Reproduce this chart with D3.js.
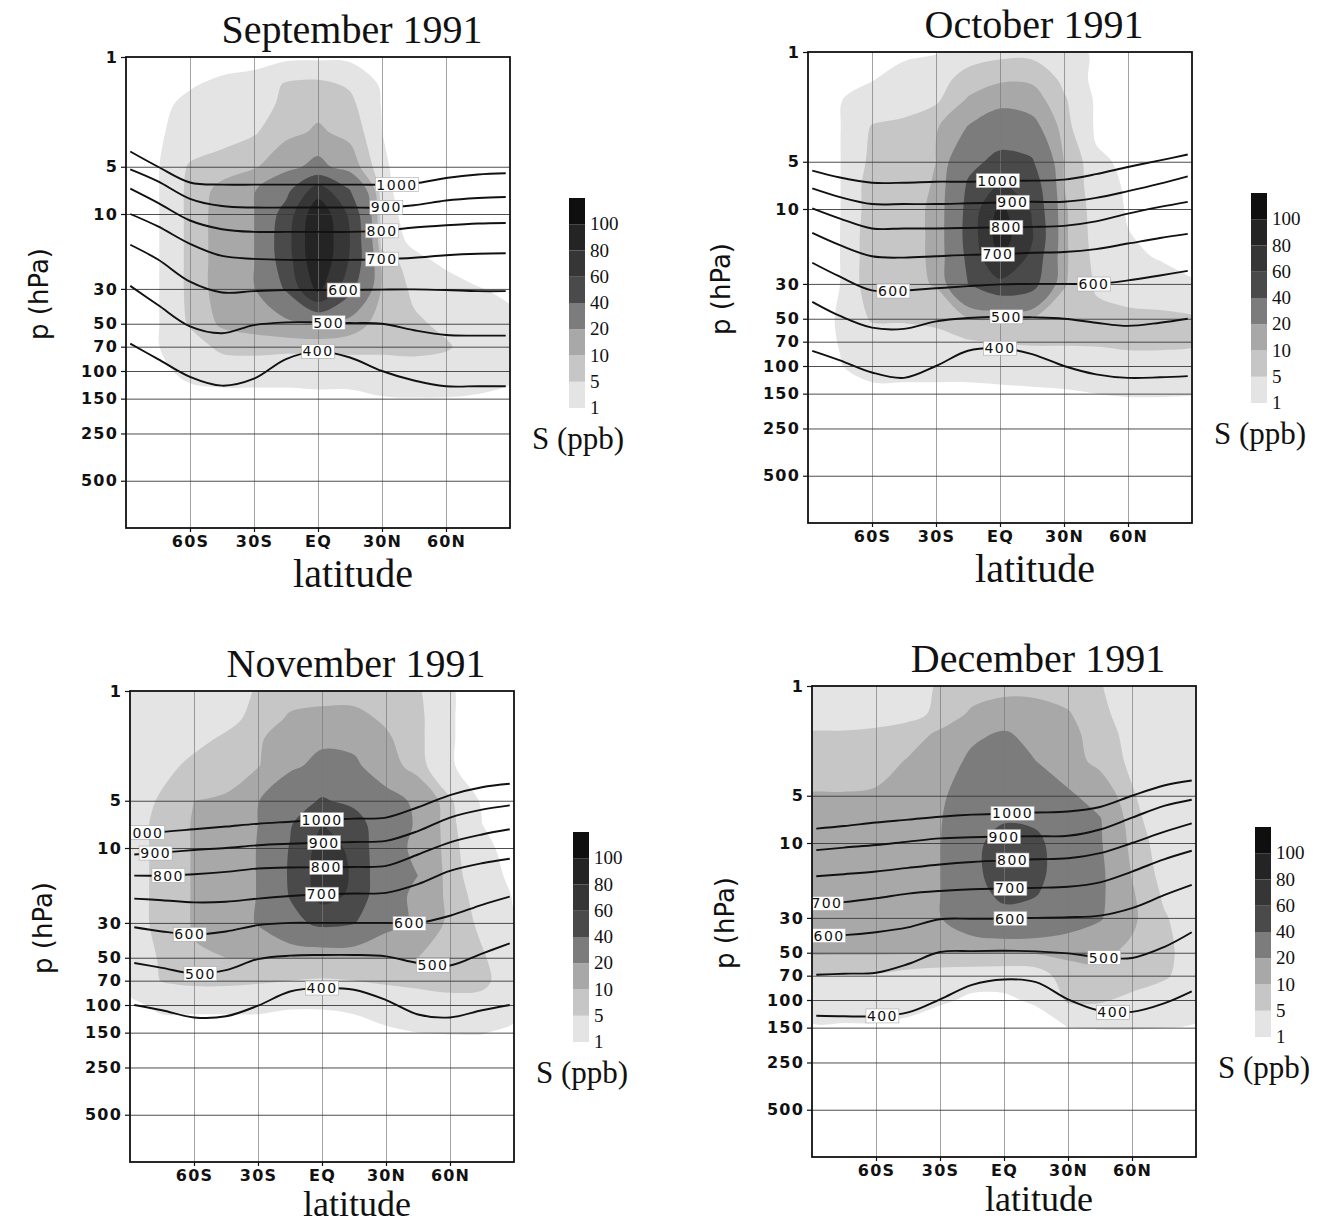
<!DOCTYPE html>
<html>
<head>
<meta charset="utf-8">
<script src="https://cdn.jsdelivr.net/npm/d3@7"></script>
<style>
	body { margin: 0; background: #fff; }
	.axis text { font-family: "DejaVu Sans", sans-serif; font-weight: bold; font-size: 16px; letter-spacing: 1.2px; fill: #111; }
	.axis line { stroke: #111; stroke-width: 1.2; }
	.axis path { display: none; }
	.grid line { stroke: #3a3a3a; stroke-width: 0.9; }
	.vgrid line { stroke: #7a7a7a; stroke-width: 0.7; }
	.grid path, .vgrid path { display: none; }
	.serif { font-family: "Liberation Serif", "Times New Roman", serif; fill: #111; }
	.ilabel { font-family: "DejaVu Sans", sans-serif; font-size: 14px; letter-spacing: 1.4px; fill: #111; }
</style>
</head>
<body>
<svg id="chart" width="1323" height="1224"></svg>
<script>

// grid of the S field: columns = latitudes, rows = pressure levels (hPa)
var lats = [-90, -75, -60, -45, -30, -15, 0, 15, 30, 45, 60, 75, 90];
var levels = [1, 1.5, 2, 3, 5, 7, 10, 15, 20, 30, 50, 70, 100, 150, 200];

// latitudes where the isentropes were read
var thetaLats = [-88, -75, -60, -45, -30, -15, 0, 15, 30, 45, 60, 75, 88];
var thetas = [1000, 900, 800, 700, 600, 500, 400];

var bandBreaks = [1, 5, 10, 20, 40, 60, 80, 100];
var bandColors = ["#e4e4e4", "#c6c6c6", "#a8a8a8", "#7c7c7c", "#4a4a4a", "#363636", "#242424", "#0f0f0f"];

var pTicks = [1, 5, 10, 30, 50, 70, 100, 150, 250, 500];
var latTicks = [-60, -30, 0, 30, 60];
var latTickLabels = ["60S", "30S", "EQ", "30N", "60N"];
var months = ["September 1991", "October 1991", "November 1991", "December 1991"];

// S (ppb)
var sepS = [
	[0, 0, 0, 0, 0.1, 0.2, 0.3, 0.2, 0, 0, 0, 0, 0],
	[0, 0.3, 0.8, 1.5, 2, 5.5, 6, 4.5, 0.5, 0, 0, 0, 0],
	[0, 0.5, 1.5, 2, 3, 6, 8, 6, 0.8, 0, 0, 0, 0],
	[0, 0.7, 2, 3, 4.5, 8, 11, 8, 1, 0.3, 0, 0, 0],
	[0, 0.8, 5.5, 7, 9, 16, 24, 14, 1.3, 0, 0, 0, 0],
	[0, 0.8, 6, 12, 19, 34, 70, 40, 1.5, 0, 0, 0, 0],
	[0, 0.8, 6, 13, 19.5, 48, 96, 56, 2, 0, 0, 0, 0],
	[0, 0.8, 6, 13, 19.5, 52, 99, 60, 3, 0.3, 0, 0, 0],
	[0, 0.8, 6, 13, 19.5, 50, 97, 58, 8, 2, 0.3, 0, 0],
	[0, 0.8, 6, 13, 19, 42, 85, 46, 9, 4, 2.5, 1.1, 0.6],
	[0, 0.8, 5.5, 11, 13, 16, 18, 14, 7, 5.8, 4, 2.5, 1.5],
	[0, 0.9, 3, 6, 6.5, 6, 6, 6, 6, 6, 5.5, 3, 1.5],
	[0, 0.3, 1.8, 2.5, 2.5, 2.5, 3, 3, 3, 3.5, 3, 2, 1.5],
	[0, 0, 0, 0, 0, 0, 0, 0, 0.8, 0.9, 0.9, 0.8, 0.5],
	[0, 0, 0, 0, 0, 0, 0, 0, 0, 0, 0, 0, 0]
];
var octS = [
	[0, 0, 0.2, 0.5, 0.8, 2.5, 3.5, 3.5, 2.5, 0.5, 0, 0, 0],
	[0, 0.3, 0.9, 2, 3, 7, 9, 9, 4, 0, 0, 0, 0],
	[0, 0.9, 2, 3, 4, 10.5, 15, 13, 5.5, 0.5, 0, 0, 0],
	[0, 0.9, 5.3, 6, 9, 20.5, 30, 25, 6.5, 0.5, 0, 0, 0],
	[0, 0.9, 6, 6.5, 10, 35, 45, 42, 10, 1.5, 0.5, 0, 0],
	[0, 0.9, 7, 7.5, 10.5, 42, 62, 52, 10, 2, 0.7, 0.2, 0],
	[0, 0.9, 7, 8, 11, 45, 85, 58, 11, 2.5, 0.8, 0.3, 0],
	[0, 1.0, 7.5, 8, 11, 46, 90, 62, 11, 3, 1.1, 0.5, 0.2],
	[0, 1.0, 7.5, 8, 11, 44, 82, 56, 11, 3.5, 1.5, 0.8, 0.3],
	[0, 1.0, 7.5, 8, 10.5, 40, 55, 48, 10.5, 4.5, 3, 2, 1.2],
	[0, 1.2, 5.5, 5.5, 6, 9.5, 10, 9.5, 7, 6, 6, 6, 5.5],
	[0, 1.1, 2.5, 3, 3.5, 4.5, 5.2, 5.5, 5.5, 5.5, 5.8, 5.8, 5.5],
	[0, 0.9, 2, 2, 2, 2, 2.2, 2.5, 2.5, 3, 3.5, 3.5, 3.5],
	[0, 0, 0.3, 0.3, 0.3, 0.3, 0.4, 0.5, 0.7, 1.0, 1.2, 1.2, 1.1],
	[0, 0, 0, 0, 0, 0, 0, 0, 0, 0, 0, 0, 0]
];
var novS = [
	[1.2, 1.5, 2, 2.5, 5.5, 7, 7.5, 7.5, 6.5, 5.5, 1.2, 0, 0],
	[1.2, 2, 3, 4, 6, 11, 12, 12, 9, 6, 1.2, 0, 0],
	[1.3, 2.5, 4, 5.5, 8.5, 16, 18, 17, 11, 6, 1.2, 0, 0],
	[1.5, 4, 5.8, 6.5, 9.5, 18, 23, 22, 14, 6.5, 1.2, 0, 0],
	[3, 5.5, 10, 11, 19.5, 30, 42, 35, 24, 18, 5.5, 0.5, 0],
	[3.5, 6, 10.5, 12, 20, 38, 60, 50, 25, 19, 6, 1, 0],
	[3.5, 6, 10.5, 12.5, 20.5, 41, 68, 56, 22, 19, 6.5, 1.5, 0.3],
	[3.5, 6, 10.5, 12.5, 20.5, 42, 70, 58, 22, 20, 7, 2, 0.5],
	[3.5, 6, 10.5, 12.5, 20.5, 41, 68, 56, 22, 19, 7.5, 3, 0.8],
	[3.5, 6, 10.5, 12, 21, 35, 44, 41, 24, 18, 8, 4, 1.2],
	[2.5, 5.5, 9.5, 10, 10, 10, 10, 10, 10, 10, 8, 5.5, 2],
	[2, 5.2, 6, 6, 5.5, 5, 4.5, 5, 5.5, 6, 6.5, 6, 2.5],
	[0.5, 1.5, 1.5, 1.5, 1.5, 1.2, 1.2, 1.5, 2.5, 3, 3.5, 3.5, 2],
	[0, 0, 0, 0, 0, 0, 0, 0, 0.5, 1, 1.1, 1.1, 0.5],
	[0, 0, 0, 0, 0, 0, 0, 0, 0, 0, 0, 0, 0]
];
var decS = [
	[1.5, 1.8, 2, 3, 5.5, 7, 8, 8, 7, 5.2, 3, 1.5, 1.2],
	[1.5, 2, 2.5, 3.5, 6, 11, 13, 12.5, 10.5, 6, 3, 1.5, 1.2],
	[5.5, 5.5, 6, 7, 11, 18, 21, 17, 12, 7, 3.5, 1.5, 1.2],
	[6, 6, 7, 10.5, 15, 22, 24, 20, 13, 8, 4, 1.5, 1.2],
	[10.5, 10.5, 11, 12, 18, 27, 30, 28, 22, 15, 5.5, 1.5, 1.2],
	[11, 11, 11.5, 12.5, 19, 32, 38, 36, 25, 20.5, 6.5, 2, 1.2],
	[11.5, 11.5, 12, 13, 19.5, 35, 48, 45, 27, 21, 8, 2.5, 1.3],
	[11.5, 11.5, 12, 13, 19.5, 35, 50, 46, 28, 22, 9.5, 3, 1.5],
	[11.5, 11.5, 12, 13, 19.5, 34, 45, 42, 28, 22, 10.5, 4, 1.8],
	[11, 11, 11.5, 12.5, 19.5, 30, 35, 33, 27, 21, 11, 5.5, 2],
	[10.5, 10.5, 10.5, 10.5, 10.5, 10.5, 10, 10.5, 11, 11, 9, 6, 3],
	[4.5, 4.5, 4.5, 3, 2, 1.5, 1.5, 2, 8, 9, 7, 5.5, 3],
	[2, 2, 2, 1.8, 1.2, 0.8, 0.8, 1.2, 5.5, 5.5, 4, 3, 2],
	[0.8, 0.8, 0.8, 0.5, 0.2, 0, 0, 0.3, 1.0, 1.1, 1.1, 1, 0.8],
	[0, 0, 0, 0, 0, 0, 0, 0, 0, 0, 0, 0, 0]
];

// pressure (hPa) of each isentrope (1000 K ... 400 K) at thetaLats
var sepTheta = [
	[4.0, 5.0, 6.3, 6.5, 6.5, 6.5, 6.5, 6.5, 6.5, 6.4, 5.9, 5.6, 5.5],
	[5.2, 6.2, 8.0, 8.9, 9.1, 9.1, 9.1, 9.1, 9.1, 8.8, 8.2, 7.9, 7.8],
	[6.9, 8.5, 11.0, 12.5, 13, 13, 13, 13, 12.8, 12.2, 11.8, 11.5, 11.4],
	[10, 12, 15.5, 18.5, 19.3, 19.6, 19.6, 19.6, 19.4, 19, 18.3, 17.9, 17.8],
	[15.7, 19.5, 27, 31.6, 31, 30.5, 30.5, 30.5, 30.3, 30.2, 30.5, 31, 31],
	[28.7, 38, 52, 57.5, 51, 49, 49, 49.5, 50, 55, 59, 59.5, 59.5],
	[67, 84, 109, 124, 112, 84, 75, 82, 100, 115, 125, 125, 125]
];
var octTheta = [
	[5.7, 6.3, 6.8, 6.8, 6.7, 6.7, 6.6, 6.6, 6.5, 6.0, 5.4, 4.9, 4.5],
	[7.4, 8.4, 9.3, 9.3, 9.3, 9.2, 9.1, 9.0, 9.0, 8.5, 7.7, 6.9, 6.2],
	[9.9, 11.5, 13.3, 13.3, 13.3, 13.2, 13.1, 13, 12.8, 12.0, 10.7, 9.7, 9.0],
	[14.2, 17, 20, 20.4, 20, 19.6, 19.4, 19, 18.8, 18, 16.6, 15.3, 14.4],
	[22, 27, 33, 33, 32, 31, 30.2, 30, 30, 30, 28.5, 26.5, 24.8],
	[39, 48, 57, 58, 52, 49.5, 48.6, 49, 50, 53, 55.5, 53, 50],
	[80, 92, 110, 119, 100, 80, 77, 84, 100, 113, 119, 118, 116]
];
var novTheta = [
	[8.0, 7.9, 7.6, 7.3, 7.0, 6.8, 6.6, 6.5, 6.4, 5.5, 4.6, 4.1, 3.9],
	[11, 10.7, 10.3, 10, 9.6, 9.4, 9.25, 9.15, 9.0, 7.8, 6.4, 5.7, 5.35],
	[15, 15, 14.7, 14.2, 13.5, 13.3, 13.3, 13.2, 13.0, 11, 9.2, 8.2, 7.6],
	[21, 21.5, 22.2, 22, 21, 20.2, 19.7, 19.5, 19.3, 17, 14, 12.5, 11.7],
	[32, 34, 35.5, 34, 31, 30, 30, 30, 30, 30, 27, 23, 20.4],
	[54, 58, 63, 60, 51, 48.5, 48, 48, 49, 54, 56, 47, 40.5],
	[100, 108, 120, 118, 101, 82, 78, 80, 93, 115, 120, 108, 100]
];
var decTheta = [
	[8.1, 7.8, 7.4, 7.1, 6.8, 6.6, 6.5, 6.4, 6.3, 5.9, 5.0, 4.3, 4.0],
	[11.1, 10.7, 10.3, 9.8, 9.35, 9.2, 9.1, 9.05, 9.0, 8.2, 6.9, 5.8, 5.3],
	[16.3, 15.8, 15.2, 14.4, 13.7, 13.2, 12.9, 12.7, 12.5, 11.6, 10.0, 8.5, 7.5],
	[24.5, 23.8, 22.5, 21, 20.2, 19.7, 19.5, 19.3, 19.0, 17.8, 15.2, 12.7, 11.2],
	[39, 38.6, 37, 34.5, 30.6, 30.4, 30.3, 30, 29.7, 29, 26, 21.5, 18.5],
	[69, 68, 67, 59, 49.5, 48.8, 48.6, 49, 50.5, 53.5, 54, 46, 37],
	[126, 127, 127, 120, 99, 80, 74, 77, 99, 117, 119, 105, 88]
];

// in-line labels: [theta, latitude]
var sepLabels = [[1000, 37], [900, 32], [800, 30], [700, 30], [600, 12], [500, 5], [400, 0]];
var octLabels = [[1000, -1], [900, 6], [800, 3], [700, -1], [600, -50], [600, 44], [500, 3], [400, 0]];
var novLabels = [[1000, -84], [900, -78], [800, -72], [1000, 0], [900, 1], [800, 2], [700, 0], [600, -62], [600, 41], [500, -57], [500, 52], [400, 0]];
var decLabels = [[1000, 4], [900, 0], [800, 4], [700, -83], [700, 3], [600, -82], [600, 3], [500, 47], [400, -57], [400, 51]];

var panelPos = [[126, 57], [808, 52], [130, 691], [812, 686]];
var latitudeDy = [59, 59, 54, 54];
var latitudeSize = [40, 40, 36, 36];

var W = 384, H = 471;
var svg = d3.select("#chart");
var defs = svg.append("defs");

var x = d3.scaleLinear().domain([-90, 90]).range([0, W]);
var y = d3.scaleLog().domain([1, 1000]).range([0, H]);

var logLv = levels.map(function(p){ return Math.log10(p); });

// fractional grid index -> data value
function colToLat(c) { return lats[0] + c * (lats[1] - lats[0]); }
function rowToP(r) {
	var k = Math.max(0, Math.min(levels.length - 2, Math.floor(r)));
	var t = r - k;
	return Math.pow(10, logLv[k] + t * (logLv[k + 1] - logLv[k]));
}

var ringLine = d3.line()
	.curve(d3.curveCatmullRomClosed.alpha(0.5))
	.x(function(d){ return x(colToLat(d[0] - 0.5)); })
	.y(function(d){ return y(rowToP(d[1] - 0.5)); });

var thetaLine = d3.line()
	.curve(d3.curveCatmullRom.alpha(0.5))
	.x(function(d, k){ return x(thetaLats[k]); })
	.y(function(d){ return y(d); });

function pointAtX(node, px) {
	var lo = 0, hi = node.getTotalLength();
	for (var k = 0; k < 40; k++) {
		var mid = (lo + hi) / 2;
		if (node.getPointAtLength(mid).x < px) lo = mid; else hi = mid;
	}
	return node.getPointAtLength(lo);
}

function drawPanel(i, grid, theta, labels) {

	var pos = panelPos[i];
	var g = svg.append("g").attr("transform", "translate(" + pos[0] + "," + pos[1] + ")");

	defs.append("clipPath").attr("id", "clip" + i)
		.append("rect").attr("width", W).attr("height", H);

	var plot = g.append("g").attr("clip-path", "url(#clip" + i + ")");

	// filled S contours
	var values = [].concat.apply([], grid);
	var bands = d3.contours()
		.size([lats.length, levels.length])
		.thresholds(bandBreaks)(values);

	plot.selectAll("path.band")
		.data(bands)
		.enter().append("path")
		.attr("class", "band")
		.attr("fill-rule", "evenodd")
		.attr("fill", function(d, k){ return bandColors[k]; })
		.attr("d", function(d){
			return d.coordinates.map(function(poly){
				return poly.map(function(r){ return ringLine(r.slice(0, -1)); }).join("");
			}).join("");
		});

	// grid lines
	plot.append("g").attr("class", "vgrid")
		.call(d3.axisBottom(x).tickValues(latTicks).tickSize(H).tickFormat(""));
	plot.append("g").attr("class", "grid")
		.call(d3.axisLeft(y).tickValues(pTicks.slice(1)).tickSize(-W).tickFormat(""));

	// isentropes
	var lines = plot.selectAll("path.theta")
		.data(theta)
		.enter().append("path")
		.attr("class", "theta")
		.attr("fill", "none")
		.attr("stroke", "#111")
		.attr("stroke-width", 1.9)
		.attr("d", thetaLine);

	var lineNodes = lines.nodes();

	labels.forEach(function(lb){
		var node = lineNodes[thetas.indexOf(lb[0])];
		var pt = pointAtX(node, x(lb[1]));
		var lg = plot.append("g").attr("transform", "translate(" + pt.x + "," + pt.y + ")");
		var bg = lg.append("rect");
		var tx = lg.append("text").attr("class", "ilabel")
			.attr("text-anchor", "middle")
			.attr("dy", "0.36em")
			.text(lb[0]);
		var bb = tx.node().getBBox();
		bg.attr("x", bb.x - 1).attr("y", -7).attr("width", bb.width + 2).attr("height", 14)
			.attr("fill", "#fff").attr("stroke", "#aaa").attr("stroke-width", 0.6);
	});

	// axes
	g.append("g").attr("class", "axis")
		.call(d3.axisLeft(y).tickValues(pTicks).tickFormat(d3.format("d")).tickSize(5).tickPadding(3));
	g.append("g").attr("class", "axis")
		.attr("transform", "translate(0," + H + ")")
		.call(d3.axisBottom(x).tickValues(latTicks)
			.tickFormat(function(d, k){ return latTickLabels[k]; })
			.tickSize(4).tickPadding(4));

	g.append("rect")
		.attr("width", W).attr("height", H)
		.attr("fill", "none").attr("stroke", "#111").attr("stroke-width", 1.8);

	// titles and axis names
	g.append("text").attr("class", "serif")
		.attr("x", 226).attr("y", -14)
		.attr("text-anchor", "middle")
		.style("font-size", "40px")
		.text(months[i]);

	g.append("text").attr("class", "serif")
		.attr("x", 227).attr("y", H + latitudeDy[i])
		.attr("text-anchor", "middle")
		.style("font-size", latitudeSize[i] + "px")
		.text("latitude");

	g.append("text")
		.attr("transform", "translate(-78,237) rotate(-90)")
		.attr("text-anchor", "middle")
		.style("font-family", "'DejaVu Sans', sans-serif")
		.style("font-size", "26px")
		.attr("fill", "#111")
		.text("p (hPa)");

	// colour bar
	var cb = g.append("g").attr("transform", "translate(443,141)");
	var cy = d3.scaleLinear().domain([0, bandBreaks.length]).range([210, 0]);

	cb.selectAll("rect")
		.data(bandColors)
		.enter().append("rect")
		.attr("x", 0).attr("width", 16)
		.attr("y", function(d, k){ return cy(k + 1); })
		.attr("height", function(d, k){ return cy(k) - cy(k + 1); })
		.attr("fill", function(d){ return d; });

	cb.selectAll("text")
		.data(bandBreaks)
		.enter().append("text")
		.attr("class", "serif")
		.attr("x", 21)
		.attr("y", function(d, k){ return cy(k); })
		.attr("dy", "0.32em")
		.style("font-size", "19px")
		.text(function(d){ return d; });

	cb.append("text").attr("class", "serif")
		.attr("x", 9).attr("y", 251)
		.attr("text-anchor", "middle")
		.style("font-size", "31px")
		.text("S (ppb)");
}

drawPanel(0, sepS, sepTheta, sepLabels);
drawPanel(1, octS, octTheta, octLabels);
drawPanel(2, novS, novTheta, novLabels);
drawPanel(3, decS, decTheta, decLabels);

</script>
</body>
</html>
